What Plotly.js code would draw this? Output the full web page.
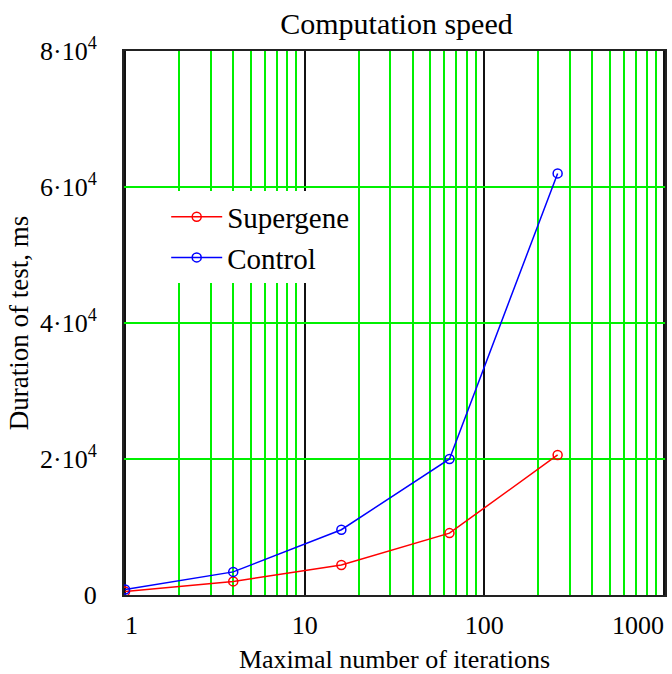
<!DOCTYPE html>
<html>
<head>
<meta charset="utf-8">
<script src="https://cdn.plot.ly/plotly-3.0.1.min.js"></script>
<style>html,body{margin:0;padding:0;background:#fff;}#chart{width:672px;height:674px;}</style>
</head>
<body>
<div id="chart"></div>
<script>
// Data
var iterations = [1, 4, 16, 64, 256];
var supergeneMs = [500, 2000, 4400, 9100, 20600];
var controlMs = [800, 3400, 9600, 20000, 62000];
var yTickVals = [0, 20000, 40000, 60000, 80000];
var yTickText = ["0", "2·10<sup>4</sup>", "4·10<sup>4</sup>", "6·10<sup>4</sup>", "8·10<sup>4</sup>"];
var xTickVals = [1, 10, 100, 1000];
var xTickText = ["\u20071", "10", "100", "1000\u2007\u2007\u2007\u2007"];

var serif = "Liberation Serif, Times New Roman, serif";

var traces = [
  {
    x: iterations, y: supergeneMs, name: "Supergene", type: "scatter", mode: "lines+markers",
    line: {color: "#ff0000", width: 1.5},
    marker: {symbol: "circle-open", size: 9, color: "#ff0000", line: {width: 1.5, color: "#ff0000"}}
  },
  {
    x: iterations, y: controlMs, name: "Control", type: "scatter", mode: "lines+markers",
    line: {color: "#0000ff", width: 1.5},
    marker: {symbol: "circle-open", size: 9, color: "#0000ff", line: {width: 1.5, color: "#0000ff"}}
  }
];

var layout = {
  width: 672, height: 674,
  paper_bgcolor: "#ffffff", plot_bgcolor: "#ffffff",
  margin: {l: 124, r: 7, t: 51, b: 79, pad: 0},
  font: {family: serif, color: "#000000"},
  title: {text: "Computation speed", font: {family: serif, size: 30, color: "#000"}, x: 0.59, xanchor: "center", y: 0.965, yanchor: "middle"},
  showlegend: true,
  legend: {
    x: 0.078, y: 0.742, xanchor: "left", yanchor: "top",
    bgcolor: "#ffffff", borderwidth: 0,
    font: {family: serif, size: 29, color: "#000"},
    itemwidth: 51, tracegroupgap: 0
  },
  xaxis: {
    type: "log", range: [-0.006, 3.006],
    tickmode: "array", tickvals: xTickVals, ticktext: xTickText,
    ticks: "", tickfont: {family: serif, size: 26, color: "#000"},
    ticklabelstandoff: 6, ticklabeloverflow: "allow",
    showgrid: true, gridcolor: "#111111", gridwidth: 2,
    minor: {dtick: "D1", showgrid: true, gridcolor: "#00f000", gridwidth: 2, ticks: ""},
    showline: true, linecolor: "#222222", linewidth: 2, mirror: true,
    zeroline: false,
    title: {text: "Maximal number of iterations", font: {family: serif, size: 26, color: "#000"}, standoff: 14}
  },
  yaxis: {
    range: [0, 80000],
    tickmode: "array", tickvals: yTickVals, ticktext: yTickText,
    ticks: "", tickfont: {family: serif, size: 26, color: "#000"},
    ticklabelstandoff: 20,
    showgrid: true, gridcolor: "#00f000", gridwidth: 2,
    showline: true, linecolor: "#222222", linewidth: 2, mirror: true,
    zeroline: false,
    title: {text: "Duration of test, ms", font: {family: serif, size: 27, color: "#000"}, standoff: 4}
  }
};

Plotly.newPlot("chart", traces, layout, {displayModeBar: false, staticPlot: true});
</script>
</body>
</html>
